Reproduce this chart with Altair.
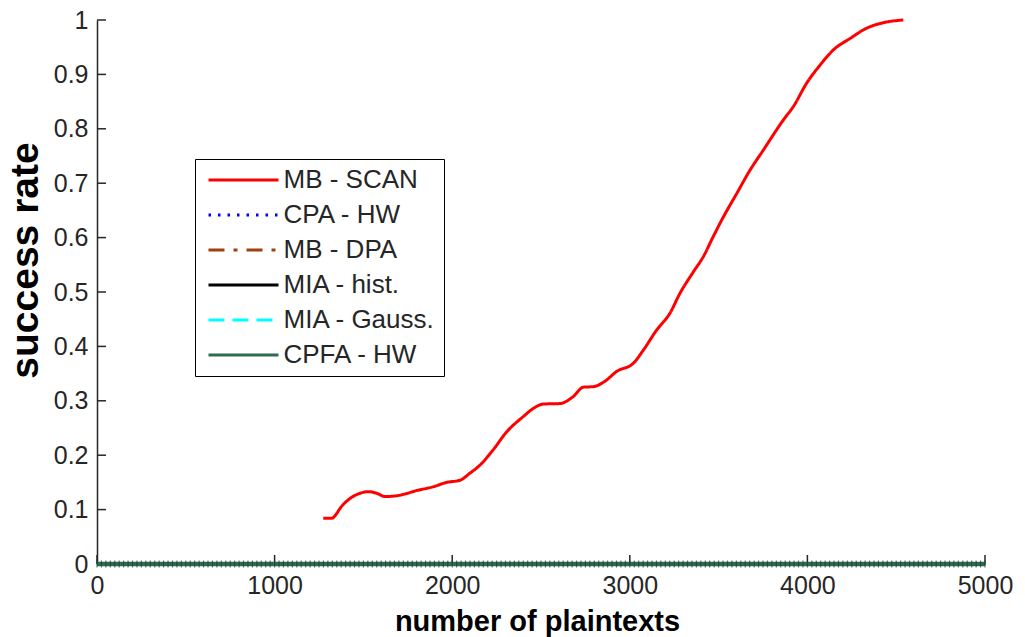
import altair as alt
import pandas as pd

# ---------------- data ----------------
SERIES = ["MB - SCAN", "CPA - HW", "MB - DPA", "MIA - hist.", "MIA - Gauss.", "CPFA - HW"]
COLORS = ["#ff0000", "#0000ff", "#a0400c", "#000000", "#00ffff", "#2d6a4f"]
DASHES = [[1, 0], [2.5, 7], [16, 9, 4, 9], [1, 0], [16, 8], [1, 0]]

MB_SCAN_X = [1274, 1321, 1350, 1368, 1415, 1481, 1528, 1575, 1622, 1678, 1725, 1800,
             1894, 1969, 2044, 2100, 2157, 2231, 2307, 2400, 2457, 2513, 2607, 2682,
             2738, 2795, 2860, 2926, 3020, 3076, 3151, 3226, 3283, 3358, 3414, 3470,
             3527, 3602, 3677, 3752, 3864, 3921, 3996, 4071, 4146, 4240, 4334, 4427, 4540]
MB_SCAN_Y = [0.084, 0.084, 0.093, 0.102, 0.118, 0.130, 0.133, 0.130, 0.124, 0.125, 0.128, 0.135,
             0.142, 0.150, 0.154, 0.167, 0.182, 0.210, 0.243, 0.271, 0.286, 0.294, 0.295, 0.308,
             0.325, 0.326, 0.336, 0.354, 0.369, 0.393, 0.430, 0.461, 0.498, 0.537, 0.565, 0.602,
             0.638, 0.681, 0.724, 0.761, 0.816, 0.841, 0.884, 0.917, 0.945, 0.966, 0.985, 0.995, 1.0]

ZERO_X = [0, 5000]
ZERO_Y = [0, 0]

CPFA_X = list(range(0, 5001, 25))
CPFA_Y = [0] * len(CPFA_X)

X_TICKS = [0, 1000, 2000, 3000, 4000, 5000]
Y_TICKS = [0, 0.1, 0.2, 0.3, 0.4, 0.5, 0.6, 0.7, 0.8, 0.9, 1]

rows = []
for x, y in zip(MB_SCAN_X, MB_SCAN_Y):
    rows.append({"series": "MB - SCAN", "x": x, "y": y})
for s in SERIES[1:]:
    for x, y in zip(ZERO_X, ZERO_Y):
        rows.append({"series": s, "x": x, "y": y})
df = pd.DataFrame(rows)
cpfa = pd.DataFrame({"x": CPFA_X, "y": CPFA_Y})
xt = pd.DataFrame({"t": X_TICKS})
yt = pd.DataFrame({"t": Y_TICKS})

W, H = 888, 544
FONT = "Liberation Sans"
AX = "#262626"

xscale = alt.Scale(domain=[0, 5000], nice=False, zero=False)
yscale = alt.Scale(domain=[0, 1], nice=False)

LEG = alt.Legend(
    title=None, orient="none", legendX=98, legendY=139,
    symbolType="M-35,0H35", symbolSize=4, symbolStrokeWidth=3, symbolOffset=27.5,
    labelOffset=27, labelFont=FONT, labelFontSize=26, labelColor=AX,
    rowPadding=9, padding=8, strokeColor="#000000", fillColor="#ffffff",
    labelLimit=400,
)

xaxis = alt.Axis(values=X_TICKS, format="d", tickSize=0, labelFont=FONT, labelFontSize=25,
                 labelColor=AX, labelPadding=9, domainColor=AX, domainWidth=1.5, grid=False,
                 title="number of plaintexts", titleFont=FONT, titleFontSize=29,
                 titleFontWeight="bold", titleColor="#000000", titleX=440, titleY=66,
                 titleBaseline="alphabetic", titleAlign="center", labelFlush=False)
yaxis = alt.Axis(values=Y_TICKS, format="~g", tickSize=0, labelFont=FONT, labelFontSize=25,
                 labelColor=AX, labelPadding=9, domainColor=AX, domainWidth=1.5, grid=False,
                 title="success rate", titleFont=FONT, titleFontSize=39,
                 titleFontWeight="bold", titleColor="#000000", titleX=-60, titleY=240,
                 titleBaseline="alphabetic", titleAlign="center", titleAngle=270,
                 labelFlush=False)

lines = alt.Chart(df).mark_line(strokeWidth=3, interpolate="monotone").encode(
    x=alt.X("x:Q", scale=xscale, axis=xaxis),
    y=alt.Y("y:Q", scale=yscale, axis=yaxis),
    color=alt.Color("series:N", scale=alt.Scale(domain=SERIES, range=COLORS), legend=LEG),
    strokeDash=alt.StrokeDash("series:N", scale=alt.Scale(domain=SERIES, range=DASHES), legend=LEG),
)

green = alt.Chart(cpfa).mark_line(strokeWidth=4.5, color="#2d6a4f").encode(
    x=alt.X("x:Q", scale=xscale), y=alt.Y("y:Q", scale=yscale))
marks = alt.Chart(cpfa).mark_tick(orient="vertical", size=7, thickness=1.2, color="#1b3d2c").encode(
    x=alt.X("x:Q", scale=xscale), y=alt.Y("y:Q", scale=yscale))

xticks = alt.Chart(xt).mark_rule(color=AX, strokeWidth=1.5).encode(
    x=alt.X("t:Q", scale=xscale), y=alt.value(H), y2=alt.value(H - 9))
yticks = alt.Chart(yt).mark_rule(color=AX, strokeWidth=1.5).encode(
    y=alt.Y("t:Q", scale=yscale), x=alt.value(0), x2=alt.value(9))

chart = alt.layer(lines, xticks, yticks, green, marks).properties(
    width=W, height=H,
    autosize=alt.AutoSizeParams(type="none"),
    padding={"left": 97, "top": 20, "right": 40, "bottom": 73},
    background="#ffffff",
).configure_view(stroke=None)

chart.save("out.html", embed_options={"renderer": "svg", "actions": False})
